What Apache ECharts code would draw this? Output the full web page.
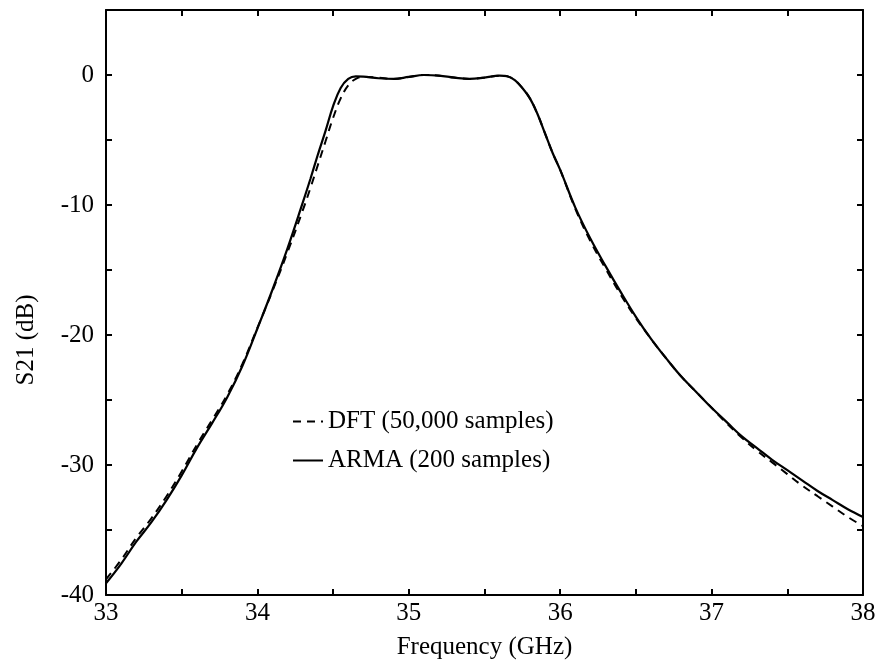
<!DOCTYPE html>
<html>
<head>
<meta charset="utf-8">
<script src="https://cdn.jsdelivr.net/npm/echarts@6/dist/echarts.min.js"></script>
<style>
  html, body { margin: 0; padding: 0; background: #fff; }
  #chart { width: 883px; height: 665px; }
</style>
</head>
<body>
<div id="chart"></div>
<script>
// Frequency samples (GHz) shared by both responses
const freqGHz = [
  33.00, 33.10, 33.20, 33.30, 33.40, 33.50, 33.60, 33.70, 33.80, 33.90,
  34.00, 34.10, 34.20, 34.30, 34.35, 34.40, 34.45, 34.50, 34.55, 34.60,
  34.65, 34.70, 34.80, 34.90, 35.00, 35.10, 35.20, 35.30, 35.40, 35.50,
  35.60, 35.65, 35.70, 35.75, 35.80, 35.85, 35.90, 35.95, 36.00, 36.10,
  36.20, 36.30, 36.40, 36.50, 36.60, 36.70, 36.80, 36.90, 37.00, 37.10,
  37.20, 37.30, 37.40, 37.50, 37.60, 37.70, 37.80, 37.90, 38.00
];

// S21 (dB) from the DFT of 50,000 samples
const dftDb = [
  -38.8, -37.3, -35.6, -34.1, -32.4, -30.5, -28.45, -26.55, -24.6, -22.25,
  -19.45, -16.6, -13.6, -10.4, -8.7, -6.9, -5.1, -3.3, -1.8, -0.8,
  -0.3, -0.15, -0.2, -0.3, -0.15, 0.0, -0.05, -0.2, -0.3, -0.2,
  -0.05, -0.1, -0.4, -1.0, -1.8, -3.0, -4.5, -6.0, -7.3, -10.3,
  -12.8, -14.9, -16.9, -18.7, -20.3, -21.8, -23.2, -24.4, -25.6, -26.8,
  -27.9, -28.9, -29.8, -30.7, -31.6, -32.4, -33.2, -34.0, -34.7
];

// S21 (dB) from the ARMA model of 200 samples
const armaDb = [
  -39.1, -37.6, -35.9, -34.4, -32.7, -30.8, -28.7, -26.8, -24.8, -22.4,
  -19.5, -16.5, -13.3, -9.8, -8.0, -6.1, -4.3, -2.4, -1.0, -0.3,
  -0.1, -0.12, -0.25, -0.3, -0.15, 0.0, -0.05, -0.2, -0.3, -0.2,
  -0.05, -0.1, -0.4, -1.0, -1.8, -3.0, -4.5, -6.0, -7.3, -10.2,
  -12.6, -14.7, -16.7, -18.6, -20.3, -21.8, -23.2, -24.4, -25.6, -26.7,
  -27.8, -28.7, -29.6, -30.4, -31.2, -32.0, -32.7, -33.4, -34.0
];

const seriesNames = ['DFT (50,000 samples)', 'ARMA (200 samples)'];
const xTitle = 'Frequency (GHz)';
const yTitle = 'S21 (dB)';

const FONT = '"Liberation Serif", "Times New Roman", serif';
const zip = (xs, ys) => xs.map((x, i) => [x, ys[i]]);

// Shared frame styling: black border on all four sides with inward ticks
const frameAxis = () => ({
  axisLine: { show: true, onZero: false, lineStyle: { color: '#000', width: 2 } },
  axisTick: { show: true, inside: true, length: 6, lineStyle: { color: '#000', width: 2 } },
  splitLine: { show: false }
});

const chart = echarts.init(document.getElementById('chart'), null, { renderer: 'canvas' });
chart.setOption({
  backgroundColor: '#fff',
  animation: false,
  grid: { left: 106, right: 20, top: 10, bottom: 68, containLabel: false },
  xAxis: [
    Object.assign({
      type: 'value', min: 33, max: 38, interval: 0.5, position: 'bottom',
      name: xTitle, nameLocation: 'middle', nameGap: 40,
      nameTextStyle: { fontFamily: FONT, fontSize: 25, color: '#000' },
      axisLabel: {
        show: true, margin: 6, color: '#000', fontFamily: FONT, fontSize: 25,
        showMinLabel: true, showMaxLabel: true,
        formatter: v => (Math.abs(v - Math.round(v)) < 1e-9 ? String(Math.round(v)) : '')
      }
    }, frameAxis()),
    Object.assign({
      type: 'value', min: 33, max: 38, interval: 0.5, position: 'top',
      axisLabel: { show: false }
    }, frameAxis())
  ],
  yAxis: [
    Object.assign({
      type: 'value', min: -40, max: 5, interval: 5, position: 'left',
      axisLabel: {
        show: true, margin: 12, color: '#000', fontFamily: FONT, fontSize: 25,
        showMinLabel: true,
        formatter: v => (v % 10 === 0 ? String(v) : '')
      }
    }, frameAxis()),
    Object.assign({
      type: 'value', min: -40, max: 5, interval: 5, position: 'right',
      axisLabel: { show: false }
    }, frameAxis())
  ],
  legend: {
    orient: 'vertical', left: 292, top: 409, padding: 0,
    itemWidth: 30, itemHeight: 14, itemGap: 14,
    itemStyle: { opacity: 0 },
    textStyle: { fontFamily: FONT, fontSize: 25, color: '#000' },
    data: seriesNames
  },
  graphic: [{
    type: 'text', x: 26, y: 340, rotation: Math.PI / 2,
    style: {
      text: yTitle, font: '25px ' + FONT, fill: '#000',
      textAlign: 'center', textVerticalAlign: 'middle'
    }
  }],
  series: [
    {
      name: seriesNames[0], type: 'line', xAxisIndex: 0, yAxisIndex: 0,
      data: zip(freqGHz, dftDb), showSymbol: false, symbol: 'none',
      smooth: 0.4,
      lineStyle: { color: '#000', width: 2, type: [8, 6] },
      itemStyle: { color: '#000' }
    },
    {
      name: seriesNames[1], type: 'line', xAxisIndex: 0, yAxisIndex: 0,
      data: zip(freqGHz, armaDb), showSymbol: false, symbol: 'none',
      smooth: 0.4,
      lineStyle: { color: '#000', width: 2.2, type: 'solid' },
      itemStyle: { color: '#000' }
    }
  ]
});
</script>
</body>
</html>
